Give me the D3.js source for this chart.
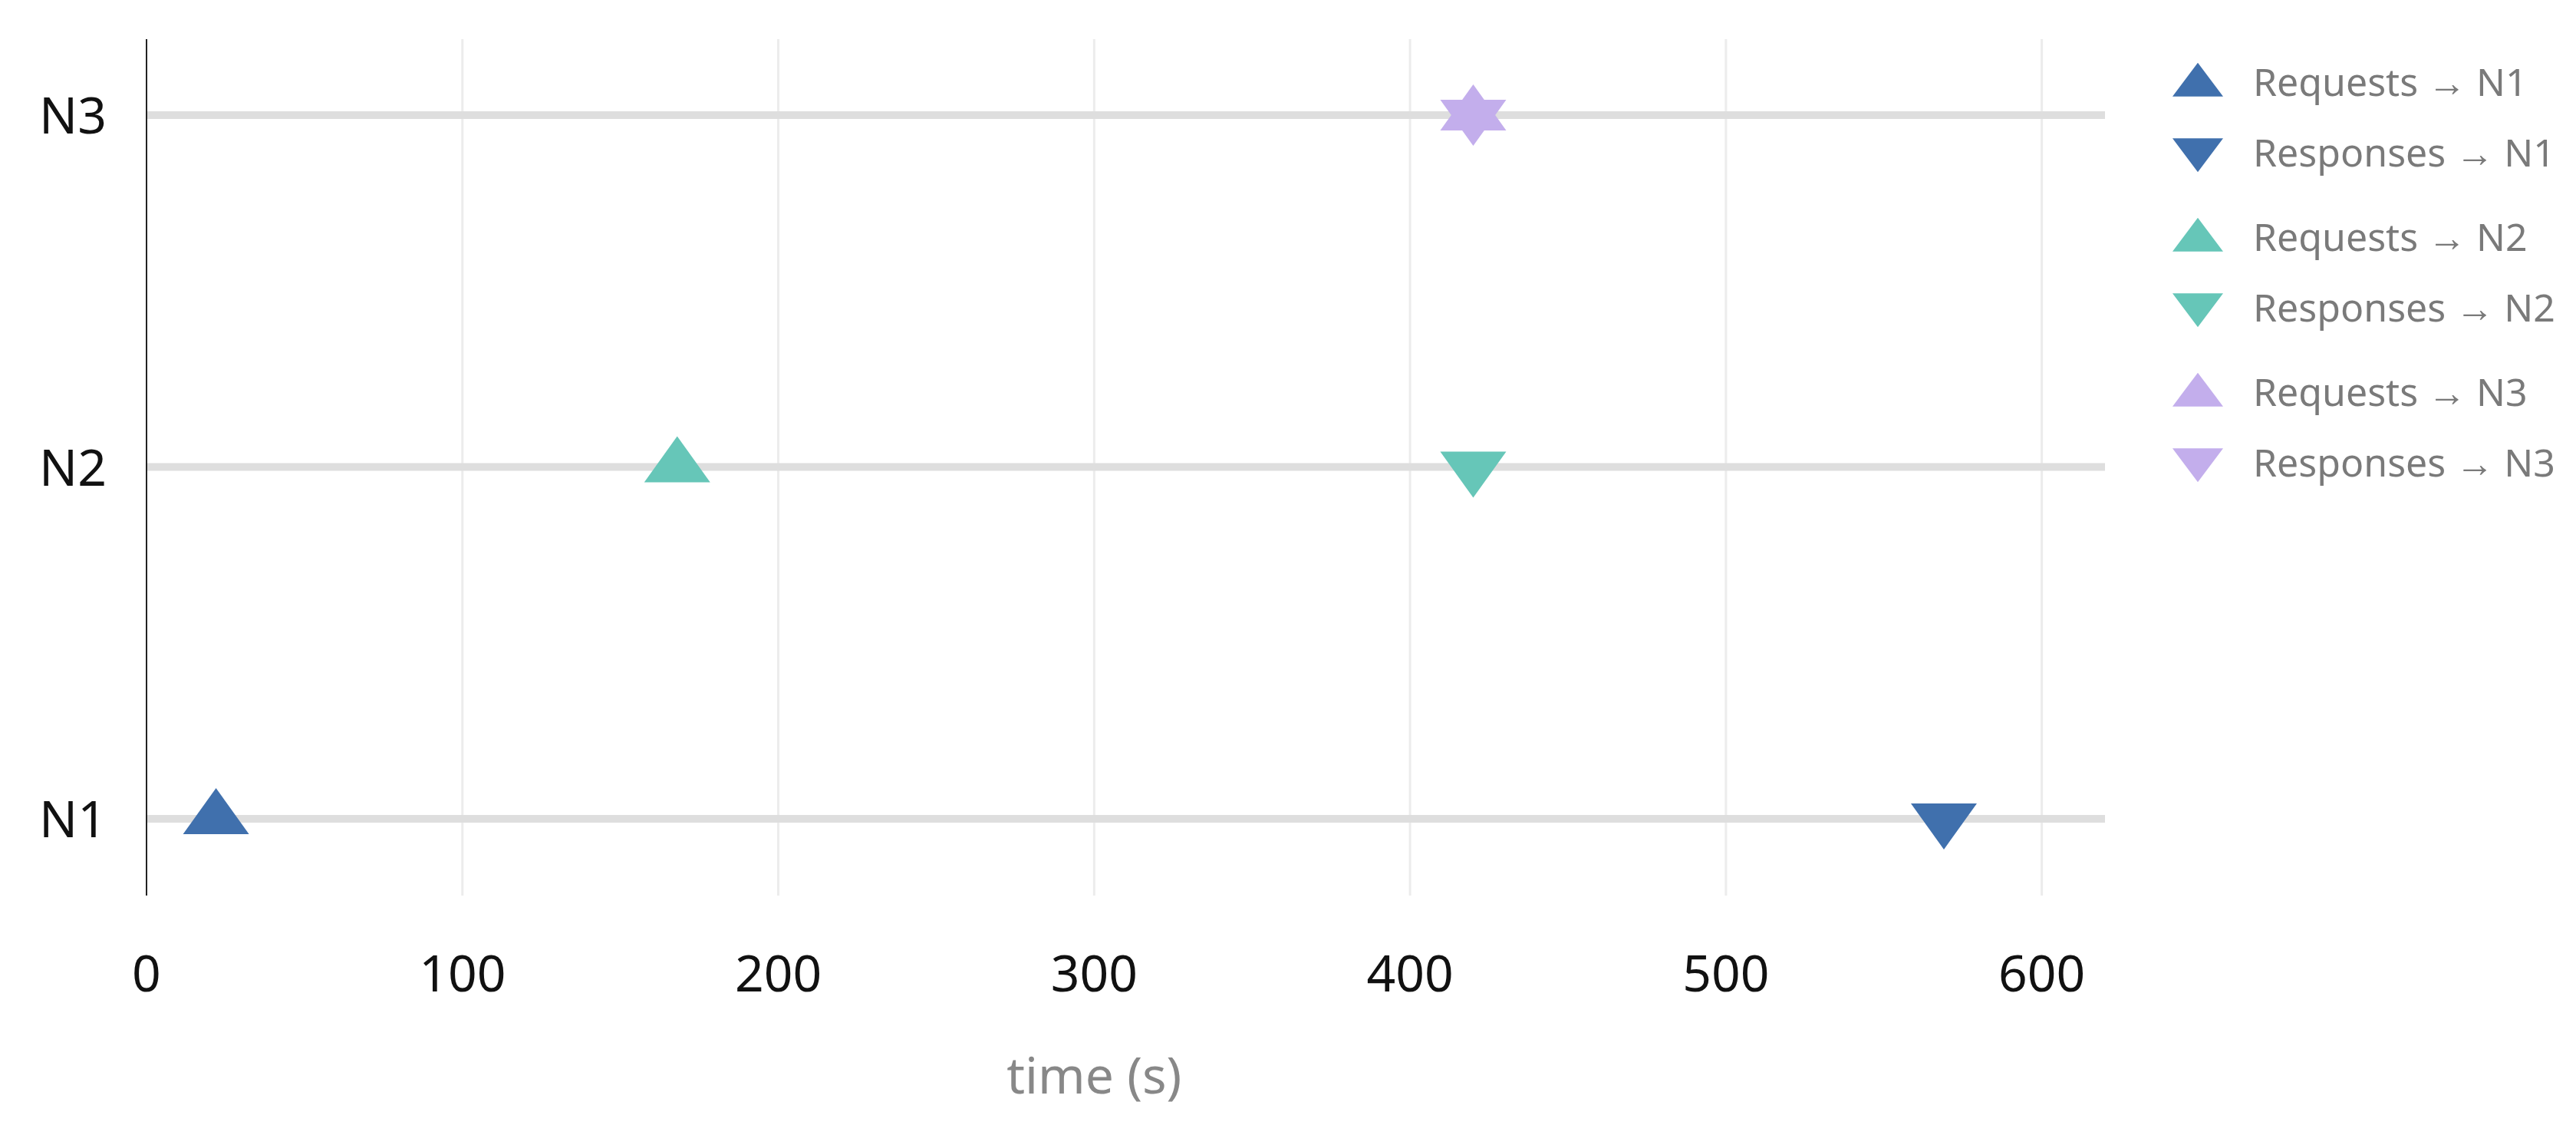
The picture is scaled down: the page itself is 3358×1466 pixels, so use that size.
<!DOCTYPE html>
<html><head><meta charset="utf-8">
<script src="https://cdn.jsdelivr.net/npm/d3@7"></script>
<style>body{margin:0;background:#fff}</style>
</head><body>
<svg width="3358" height="1466"></svg>
<script>
const nodes = ["N1", "N2", "N3"];
const colors = ["#4070ad", "#66c6b8", "#c3aeec"];
const requests = [{node: "N1", t: 22}, {node: "N2", t: 168}, {node: "N3", t: 420}];
const responses = [{node: "N1", t: 569}, {node: "N2", t: 420}, {node: "N3", t: 420}];
const xTicks = [0, 100, 200, 300, 400, 500, 600];

const svg = d3.select("svg");
const x = d3.scaleLinear().domain([0, 620]).range([191, 2744]);
const y = d3.scalePoint().domain(nodes).range([1067, 150]);
const col = d3.scaleOrdinal().domain(nodes).range(colors);

// vertical grid
svg.append("g").selectAll("line").data(xTicks.slice(1)).enter().append("line")
    .attr("x1", d => x(d)).attr("x2", d => x(d)).attr("y1", 51).attr("y2", 1167)
    .attr("stroke", "#ececec").attr("stroke-width", 3);

// horizontal node lines
svg.append("g").selectAll("line").data(nodes).enter().append("line")
    .attr("x1", x(0)).attr("x2", x(620)).attr("y1", d => y(d)).attr("y2", d => y(d))
    .attr("stroke", "#dedede").attr("stroke-width", 10);

// y axis line
svg.append("line").attr("x1", x(0)).attr("x2", x(0)).attr("y1", 51).attr("y2", 1167)
    .attr("stroke", "#222").attr("stroke-width", 2);

const font = "'Noto Sans', sans-serif";
svg.append("g").selectAll("text").data(xTicks).enter().append("text")
    .attr("x", d => x(d)).attr("y", 1292).attr("text-anchor", "middle")
    .attr("font-family", font).attr("font-size", 66).attr("fill", "#111").text(d => d);
svg.append("g").selectAll("text").data(nodes).enter().append("text")
    .attr("x", 95).attr("y", d => y(d) + 24).attr("text-anchor", "middle")
    .attr("font-family", font).attr("font-size", 66).attr("fill", "#111").text(d => d);
svg.append("text").attr("x", x(300)).attr("y", 1425).attr("text-anchor", "middle")
    .attr("font-family", font).attr("font-size", 66).attr("fill", "#888").text("time (s)");

const tri = (w, h, up) => up
    ? `M0,${-h * 2 / 3}L${w / 2},${h / 3}L${-w / 2},${h / 3}Z`
    : `M0,${h * 2 / 3}L${w / 2},${-h / 3}L${-w / 2},${-h / 3}Z`;

svg.append("g").selectAll("path").data(requests).enter().append("path")
    .attr("transform", d => `translate(${x(d.t)},${y(d.node)})`)
    .attr("d", tri(86, 60, true)).attr("fill", d => col(d.node));
svg.append("g").selectAll("path").data(responses).enter().append("path")
    .attr("transform", d => `translate(${x(d.t)},${y(d.node)})`)
    .attr("d", tri(86, 60, false)).attr("fill", d => col(d.node));

// legend
const legendRows = [];
nodes.forEach((n, i) => {
    legendRows.push({label: "Requests \u2192 " + n, node: n, up: true, yy: 107 + i * 202});
    legendRows.push({label: "Responses \u2192 " + n, node: n, up: false, yy: 199 + i * 202});
});
const lg = svg.append("g").selectAll("g").data(legendRows).enter().append("g")
    .attr("transform", d => `translate(2865,${d.yy})`);
lg.append("path").attr("d", d => tri(66, 44, d.up)).attr("fill", d => col(d.node))
    .attr("transform", d => d.up ? "translate(0,4)" : "translate(0,-4)");
lg.append("text").attr("x", 72).attr("y", 18).attr("font-family", font)
    .attr("font-size", 50).attr("fill", "#7a7a7a").text(d => d.label);
</script>
</body></html>
